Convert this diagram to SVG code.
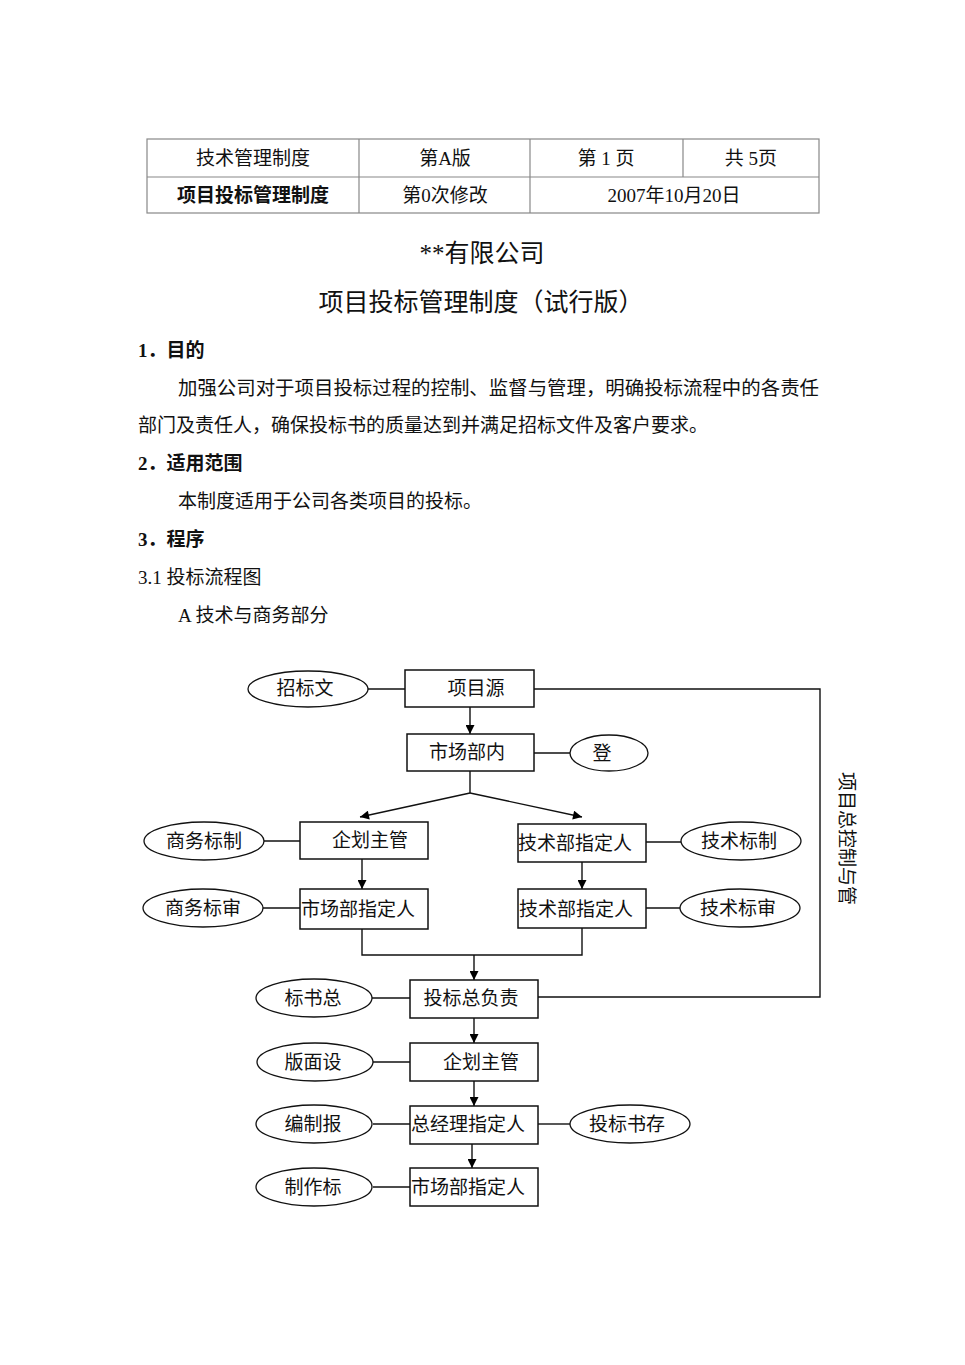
<svg xmlns="http://www.w3.org/2000/svg" width="965" height="1365" viewBox="0 0 965 1365">
<defs>
<marker id="ah" viewBox="0 0 10 10" refX="10" refY="5" markerWidth="10" markerHeight="9" markerUnits="userSpaceOnUse" orient="auto">
<path d="M0,0 L10,5 L0,10 z" fill="#000"/>
</marker>
<style>
text{font-family:"Liberation Serif","Noto Sans CJK SC",serif;fill:#111;}
.t{font-size:19px;}
.c{text-anchor:middle;}
.b{font-weight:bold;}
.tb{fill:none;stroke:#888;stroke-width:1.2;}
.box{fill:#fff;stroke:#111;stroke-width:1.5;}
.el{fill:#fff;stroke:#111;stroke-width:1.3;}
.ln{fill:none;stroke:#111;stroke-width:1.4;}
.ar{fill:none;stroke:#111;stroke-width:1.4;marker-end:url(#ah);}
</style>
</defs>
<rect width="965" height="1365" fill="#fff"/>

<g id="header-table">
<rect class="tb" x="147" y="139" width="672" height="74"/>
<line class="tb" x1="147" y1="177" x2="819" y2="177"/>
<line class="tb" x1="359" y1="139" x2="359" y2="213"/>
<line class="tb" x1="530" y1="139" x2="530" y2="213"/>
<line class="tb" x1="683" y1="139" x2="683" y2="177"/>
<text class="t c" x="253" y="165">技术管理制度</text>
<text class="t c" x="445" y="165">第A版</text>
<text class="t c" x="606" y="165">第 1 页</text>
<text class="t c" x="751" y="165">共 5页</text>
<text class="t c b" x="253" y="202">项目投标管理制度</text>
<text class="t c" x="445" y="202">第0次修改</text>
<text class="t c" x="674" y="202">2007年10月20日</text>
</g>

<g id="body-text">
<text class="c" x="482" y="262" font-size="25">**有限公司</text>
<text class="c" x="481" y="311" font-size="25">项目投标管理制度（试行版）</text>
<text class="t b" x="138" y="357">1．目的</text>
<text class="t" x="178" y="395" textLength="641" lengthAdjust="spacingAndGlyphs">加强公司对于项目投标过程的控制、监督与管理，明确投标流程中的各责任</text>
<text class="t" x="138" y="432">部门及责任人，确保投标书的质量达到并满足招标文件及客户要求。</text>
<text class="t b" x="138" y="470">2．适用范围</text>
<text class="t" x="178" y="508">本制度适用于公司各类项目的投标。</text>
<text class="t b" x="138" y="546">3．程序</text>
<text class="t" x="138" y="584">3.1 投标流程图</text>
<text class="t" x="178" y="622">A 技术与商务部分</text>
</g>

<g id="connectors">
<line class="ln" x1="368" y1="689" x2="405" y2="689"/>
<polyline class="ln" points="534,689 820,689 820,997 538,997"/>
<line class="ar" x1="470" y1="707" x2="470" y2="734"/>
<line class="ln" x1="534" y1="753" x2="570" y2="753"/>
<line class="ln" x1="470" y1="771" x2="470" y2="793"/>
<line class="ar" x1="470" y1="793" x2="360" y2="817"/>
<line class="ar" x1="470" y1="793" x2="582" y2="817"/>
<line class="ln" x1="264" y1="841" x2="300" y2="841"/>
<line class="ln" x1="646" y1="842" x2="681" y2="842"/>
<line class="ar" x1="362" y1="859" x2="362" y2="889"/>
<line class="ar" x1="582" y1="862" x2="582" y2="889"/>
<line class="ln" x1="263" y1="908" x2="300" y2="908"/>
<line class="ln" x1="646" y1="908" x2="680" y2="908"/>
<polyline class="ln" points="362,929 362,955 582,955 582,928"/>
<line class="ar" x1="474" y1="955" x2="474" y2="980"/>
<line class="ln" x1="372" y1="998" x2="410" y2="998"/>
<line class="ar" x1="474" y1="1018" x2="474" y2="1043"/>
<line class="ln" x1="373" y1="1062" x2="410" y2="1062"/>
<line class="ar" x1="474" y1="1081" x2="474" y2="1106"/>
<line class="ln" x1="373" y1="1124" x2="410" y2="1124"/>
<line class="ln" x1="538" y1="1124" x2="570" y2="1124"/>
<line class="ar" x1="472" y1="1144" x2="472" y2="1168"/>
<line class="ln" x1="373" y1="1187" x2="410" y2="1187"/>
</g>

<g id="n-zhaobiao"><ellipse class="el" cx="308" cy="689" rx="60" ry="18"/><text class="t c" x="305" y="695">招标文</text></g>
<g id="n-xiangmuyuan"><rect class="box" x="405" y="670" width="129" height="37"/><text class="t c" x="476" y="695">项目源</text></g>
<g id="n-shichangbunei"><rect class="box" x="407" y="734" width="127" height="37"/><text class="t c" x="467" y="759">市场部内</text></g>
<g id="n-deng"><ellipse class="el" cx="609" cy="753" rx="39" ry="18"/><text class="t c" x="602" y="760">登</text></g>
<g id="n-qihua1"><rect class="box" x="300" y="822" width="128" height="37"/><text class="t c" x="370" y="847">企划主管</text></g>
<g id="n-swbz"><ellipse class="el" cx="204" cy="841" rx="60" ry="19"/><text class="t c" x="204" y="848">商务标制</text></g>
<g id="n-jsbzdr1"><rect class="box" x="518" y="824" width="128" height="38"/><text class="t" x="518" y="850">技术部指定人</text></g>
<g id="n-jsbz"><ellipse class="el" cx="741" cy="841" rx="60" ry="19"/><text class="t c" x="739" y="848">技术标制</text></g>
<g id="n-scbzdr1"><rect class="box" x="300" y="889" width="128" height="40"/><text class="t" x="301" y="916">市场部指定人</text></g>
<g id="n-swbs"><ellipse class="el" cx="203" cy="908" rx="60" ry="19"/><text class="t c" x="203" y="915">商务标审</text></g>
<g id="n-jsbzdr2"><rect class="box" x="518" y="889" width="128" height="39"/><text class="t" x="519" y="916">技术部指定人</text></g>
<g id="n-jsbs"><ellipse class="el" cx="740" cy="908" rx="60" ry="19"/><text class="t c" x="738" y="915">技术标审</text></g>
<g id="n-tbzfz"><rect class="box" x="410" y="980" width="128" height="38"/><text class="t c" x="471" y="1005">投标总负责</text></g>
<g id="n-bsz"><ellipse class="el" cx="314" cy="998" rx="58" ry="19"/><text class="t c" x="313" y="1005">标书总</text></g>
<g id="n-qihua2"><rect class="box" x="410" y="1043" width="128" height="38"/><text class="t c" x="481" y="1069">企划主管</text></g>
<g id="n-bms"><ellipse class="el" cx="315" cy="1062" rx="58" ry="19"/><text class="t c" x="313" y="1069">版面设</text></g>
<g id="n-zjlzdr"><rect class="box" x="410" y="1106" width="128" height="38"/><text class="t" x="411" y="1131">总经理指定人</text></g>
<g id="n-bzb"><ellipse class="el" cx="314" cy="1124" rx="58" ry="19"/><text class="t c" x="313" y="1131">编制报</text></g>
<g id="n-tbsc"><ellipse class="el" cx="630" cy="1124" rx="60" ry="19"/><text class="t c" x="627" y="1131">投标书存</text></g>
<g id="n-scbzdr2"><rect class="box" x="410" y="1168" width="128" height="38"/><text class="t" x="411" y="1194">市场部指定人</text></g>
<g id="n-zzb"><ellipse class="el" cx="314" cy="1187" rx="58" ry="19"/><text class="t c" x="313" y="1194">制作标</text></g>

<g id="side-label">
<text class="t" transform="translate(840,772) rotate(90)" textLength="133" lengthAdjust="spacing">项目总控制与管</text>
</g>
</svg>
